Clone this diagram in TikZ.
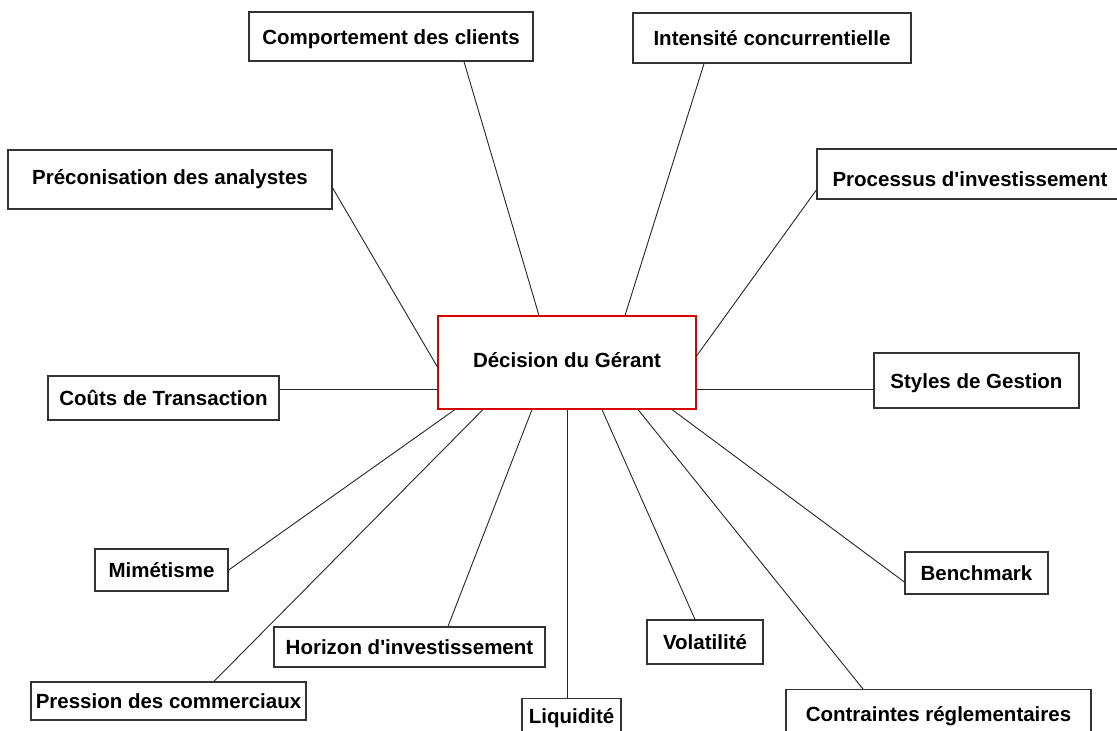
\documentclass[tikz,border=0pt]{standalone}
\usepackage{fontspec}
\setmainfont{Liberation Sans}
\begin{document}
\begin{tikzpicture}[x=1pt,y=-1pt,
  box/.style={draw=black!80, line width=1.3pt, fill=white, inner sep=0pt,
    font=\fontsize{20.5pt}{24pt}\selectfont\bfseries, text height=15pt, text depth=0pt},
  centre/.style={box, draw=red!85!black, line width=1.1pt},
  link/.style={draw=black!85, line width=0.9pt}]
\useasboundingbox (0,0) rectangle (1117,731);
\fill[white] (0,0) rectangle (1117,731);
\node[centre, minimum width=258pt, minimum height=93pt, text depth=5pt] (c) at (567,362.5) {Décision du Gérant};
\node[box, minimum width=284pt, minimum height=49pt] (comp) at (391,36.5) {Comportement des clients};
\node[box, minimum width=278pt, minimum height=50pt] (inten) at (772,38) {Intensité concurrentielle};
\node[box, minimum width=306pt, minimum height=50pt, text height=25pt] (proc) at (970,174) {Processus d\textquotesingle investissement};
\node[box, minimum width=324pt, minimum height=59pt, text depth=6pt] (prec) at (170,179.5) {Préconisation des analystes};
\node[box, minimum width=231pt, minimum height=44pt] (couts) at (163.5,398) {Coûts de Transaction};
\node[box, minimum width=205pt, minimum height=55pt] (styles) at (976.5,380.5) {Styles de Gestion};
\node[box, minimum width=133pt, minimum height=42pt] (mim) at (161.5,570) {Mimétisme};
\node[box, minimum width=143pt, minimum height=42pt] (bench) at (976.5,573) {Benchmark};
\node[box, minimum width=271pt, minimum height=40pt] (hor) at (409.5,647) {Horizon d\textquotesingle investissement};
\node[box, minimum width=275pt, minimum height=38pt] (press) at (168.5,701) {Pression des commerciaux};
\node[box, minimum width=116pt, minimum height=44pt] (vol) at (705,642) {Volatilité};
\node[box, anchor=north, minimum width=99pt, minimum height=0pt, inner ysep=11pt, text height=14pt, text depth=30pt] (liq) at (571.5,698) {Liquidité};
\node[box, anchor=north, minimum width=305pt, minimum height=0pt, inner ysep=18pt, text height=14pt, text depth=30pt] (contr) at (938.5,689) {Contraintes réglementaires};
\draw[link] ([xshift=73pt]comp.south) -- ([xshift=-28pt]c.north);
\draw[link] ([xshift=-68pt]inten.south) -- ([xshift=58pt]c.north);
\draw[link] ([yshift=-16pt]proc.west) -- ([yshift=6.5pt]c.east);
\draw[link] ([yshift=-8.5pt]prec.east) -- ([yshift=-4.5pt]c.west);
\draw[link] ([yshift=9pt]couts.east) -- ([yshift=-26.5pt]c.west);
\draw[link] ([yshift=-8.5pt]styles.west) -- ([yshift=-26.5pt]c.east);
\draw[link] (mim.east) -- ([xshift=-112pt]c.south);
\draw[link] ([xshift=45.5pt]press.north) -- ([xshift=-84pt]c.south);
\draw[link] ([xshift=38.5pt]hor.north) -- ([xshift=-35pt]c.south);
\draw[link] ([xshift=-4.5pt]liq.north) -- (c.south);
\draw[link] ([xshift=-10pt]vol.north) -- ([xshift=35pt]c.south);
\draw[link] ([xshift=-75.5pt]contr.north) -- ([xshift=71pt]c.south);
\draw[link] ([yshift=-9pt]bench.west) -- ([xshift=105pt]c.south);
\end{tikzpicture}
\end{document}
